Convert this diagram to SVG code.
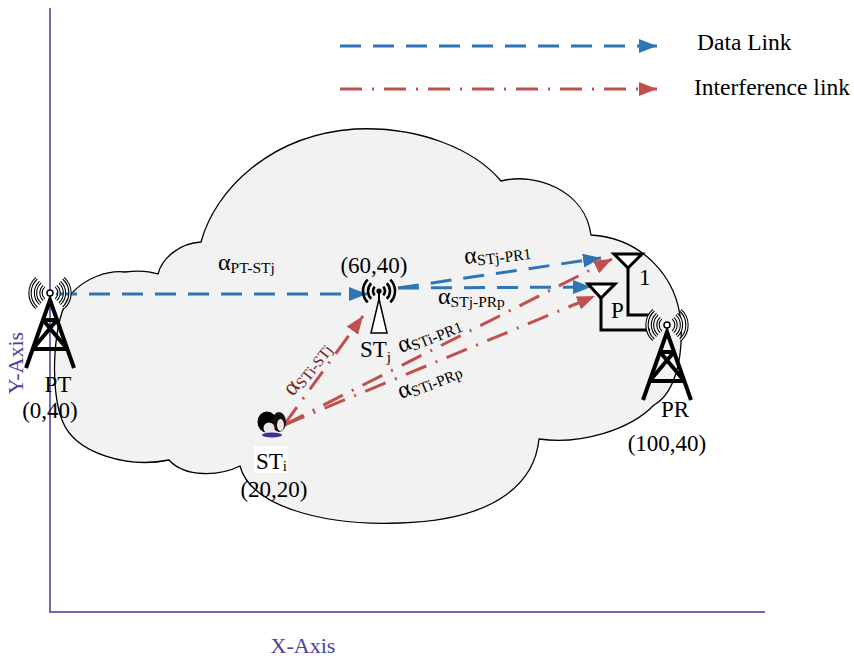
<svg xmlns="http://www.w3.org/2000/svg" xmlns:xlink="http://www.w3.org/1999/xlink" width="854" height="658" viewBox="0 0 854 658">
  <style>
    text { font-family: "Liberation Serif", "Times New Roman", serif; fill: #000; }
    .lbl { font-size: 23px; }
    .alpha { font-size: 24px; }
    .sub { font-size: 15.5px; }
    .axis-text { font-size: 22px; fill: #4b3fa0; }
    .legend-text { font-size: 23.5px; }
    .data { fill: none; stroke: #2e75b6; stroke-width: 3; stroke-dasharray: 21 12; }
    .intf { fill: none; stroke: #c0504d; stroke-width: 3; stroke-dasharray: 22 10 2 10; }
    .tower { fill: none; stroke: #000; stroke-width: 4; stroke-linejoin: miter; }
    .wave-o { fill: none; stroke: #000; stroke-width: 3.4; }
    .wave-i { fill: none; stroke: #fff; stroke-width: 1.2; }
    .wave-s { fill: none; stroke: #000; stroke-width: 2.6; }
    .ant { fill: #fff; stroke: #000; stroke-width: 3; stroke-linejoin: miter; }
    .feed { fill: none; stroke: #000; stroke-width: 3; }
  </style>
  <defs>
    <marker id="arrow-blue" markerUnits="userSpaceOnUse" markerWidth="20" markerHeight="14" refX="18" refY="7" orient="auto">
      <path d="M0,0 L18,7 L0,14 z" fill="#2e75b6"/>
    </marker>
    <marker id="arrow-red" markerUnits="userSpaceOnUse" markerWidth="20" markerHeight="14" refX="18" refY="7" orient="auto">
      <path d="M0,0 L18,7 L0,14 z" fill="#c0504d"/>
    </marker>
    <!-- lattice tower, apex at origin -->
    <g id="tower-body">
      <path class="tower" d="M-24,68 L0,0 L24,68"/>
      <path class="tower" d="M-7,20 L7,20 M-7,20 L17.3,49 M7,20 L-17.3,49 M-17.3,49 L17.3,49"/>
    </g>
    <!-- outlined radio waves centred at origin -->
    <g id="waves-outline">
      <path class="wave-o" d="M6.02,-6.69 A9,9 0 0 1 6.02,6.69 M9.7,-10.77 A14.5,14.5 0 0 1 9.7,10.77 M13.38,-14.86 A20,20 0 0 1 13.38,14.86 M-6.02,-6.69 A9,9 0 0 0 -6.02,6.69 M-9.7,-10.77 A14.5,14.5 0 0 0 -9.7,10.77 M-13.38,-14.86 A20,20 0 0 0 -13.38,14.86"/>
      <path class="wave-i" d="M6.02,-6.69 A9,9 0 0 1 6.02,6.69 M9.7,-10.77 A14.5,14.5 0 0 1 9.7,10.77 M13.38,-14.86 A20,20 0 0 1 13.38,14.86 M-6.02,-6.69 A9,9 0 0 0 -6.02,6.69 M-9.7,-10.77 A14.5,14.5 0 0 0 -9.7,10.77 M-13.38,-14.86 A20,20 0 0 0 -13.38,14.86"/>
      <circle cx="0" cy="0" r="3" fill="#fff" stroke="#000" stroke-width="1.5"/>
    </g>
  </defs>

  <rect x="0" y="0" width="854" height="658" fill="#fff"/>

  <!-- coverage cloud -->
  <path id="cloud" d="M71,294 C85,278 108,270 125,272 C140,270 152,272 158,274 C162,258 180,243 201,242 C215,190 270,135 355,129 C420,126 475,150 501,181 C535,172 585,190 591,235 C640,238 678,275 681,325 C683,365 672,395 654,405 C630,430 580,445 539,439 C535,480 500,520 400,523 C320,526 250,505 240,466 C220,476 185,478 169,460 C130,468 75,455 62,420 C50,390 52,320 71,294 Z" fill="#f2f2f2" stroke="#000" stroke-width="1.3"/>

  <!-- axes -->
  <g id="axes">
    <path d="M50,8 L50,612 L765,612" fill="none" stroke="#3b3a9e" stroke-width="1.5"/>
    <text class="axis-text" x="18" y="363" text-anchor="middle" dominant-baseline="middle" transform="rotate(-90 18 363)">Y-Axis</text>
    <text class="axis-text" x="303" y="653" text-anchor="middle">X-Axis</text>
  </g>

  <!-- legend -->
  <g id="legend">
    <line class="data" x1="340" y1="46" x2="657" y2="46" marker-end="url(#arrow-blue)"/>
    <text class="legend-text" x="697" y="50">Data Link</text>
    <line class="intf" x1="340" y1="89" x2="657" y2="89" marker-end="url(#arrow-red)"/>
    <text class="legend-text" x="694" y="95">Interference link</text>
  </g>

  <!-- links -->
  <g id="connectors">
    <line class="data" x1="56" y1="294" x2="367" y2="294" marker-end="url(#arrow-blue)"/>
    <line class="data" x1="398" y1="288" x2="601" y2="258" marker-end="url(#arrow-blue)"/>
    <line class="data" x1="398" y1="288" x2="591" y2="287" marker-end="url(#arrow-blue)"/>
    <line class="intf" x1="284" y1="425" x2="363" y2="316" marker-end="url(#arrow-red)"/>
    <line class="intf" x1="284" y1="425" x2="612" y2="259" marker-end="url(#arrow-red)"/>
    <line class="intf" x1="284" y1="425" x2="595" y2="296" marker-end="url(#arrow-red)"/>
  </g>

  <!-- link gains -->
  <g id="gains">
    <text class="alpha" x="218" y="270">α<tspan class="sub" dy="3">PT-STj</tspan></text>
    <text class="alpha" x="465" y="264" transform="rotate(-7 465 264)">α<tspan class="sub" dy="3">STj-PR1</tspan></text>
    <text class="alpha" x="438" y="304">α<tspan class="sub" dy="3">STj-PRp</tspan></text>
    <text class="alpha" x="401" y="353" transform="rotate(-22 401 353)">α<tspan class="sub" dy="3">STi-PR1</tspan></text>
    <text class="alpha" x="401" y="399" transform="rotate(-22 401 399)">α<tspan class="sub" dy="3">STi-PRp</tspan></text>
    <text class="alpha" x="293" y="397" transform="rotate(-52 293 397)" style="fill:#7a1e1e">α<tspan class="sub" dy="3" style="fill:#7a1e1e">STi-STj</tspan></text>
  </g>

  <!-- primary transmitter -->
  <g id="PT">
    <use xlink:href="#tower-body" href="#tower-body" transform="translate(50,300)"/>
    <use xlink:href="#waves-outline" href="#waves-outline" transform="translate(50,293)"/>
    <text class="lbl" x="58" y="392" text-anchor="middle">PT</text>
    <text class="lbl" x="50" y="418" text-anchor="middle">(0,40)</text>
  </g>

  <!-- secondary transmitter j -->
  <g id="STj">
    <path d="M379,293 L379,300" stroke="#000" stroke-width="2"/>
    <path d="M379,299 L371,333 L387,333 Z" fill="#fff" stroke="#000" stroke-width="1.5"/>
    <path class="wave-s" d="M4.24,-4.24 A6,6 0 0 1 4.24,4.24 M7.78,-7.78 A11,11 0 0 1 7.78,7.78 M11.31,-11.31 A16,16 0 0 1 11.31,11.31 M-4.24,-4.24 A6,6 0 0 0 -4.24,4.24 M-7.78,-7.78 A11,11 0 0 0 -7.78,7.78 M-11.31,-11.31 A16,16 0 0 0 -11.31,11.31" transform="translate(379,291)"/>
    <circle cx="379" cy="291" r="2.6" fill="#000"/>
    <text class="lbl" x="374" y="273" text-anchor="middle">(60,40)</text>
    <text class="lbl" x="360" y="357">ST<tspan font-size="15" dy="5">j</tspan></text>
  </g>

  <!-- secondary transmitter i: two users -->
  <g id="STi">
    <ellipse cx="267" cy="422" rx="9.5" ry="10.5" fill="#000"/>
    <ellipse cx="279" cy="422" rx="7" ry="10" fill="#111"/>
    <ellipse cx="269" cy="428" rx="5.5" ry="5.5" fill="#efe6e2"/>
    <ellipse cx="280.5" cy="425" rx="3.5" ry="6" fill="#efe6e2"/>
    <ellipse cx="272" cy="435" rx="10" ry="2.6" fill="#3b2e9e"/>
    <rect x="254" y="446" width="34" height="27" fill="#fff"/>
    <text class="lbl" x="256" y="469">ST<tspan font-size="15" dy="2">i</tspan></text>
    <text class="lbl" x="274" y="497" text-anchor="middle">(20,20)</text>
  </g>

  <!-- primary receiver with two antennas -->
  <g id="PR">
    <path class="feed" d="M628,267 L628,315 L650,315 M601,298 L601,330 L650,330"/>
    <path class="ant" d="M614,254 L642,254 L628,268 Z"/>
    <path class="ant" d="M588,284 L615,284 L601,298 Z"/>
    <text class="lbl" x="639" y="285" font-size="21">1</text>
    <text class="lbl" x="611" y="318" font-size="21">P</text>
    <use xlink:href="#tower-body" href="#tower-body" transform="translate(667,332)"/>
    <use xlink:href="#waves-outline" href="#waves-outline" transform="translate(667,325)"/>
    <text class="lbl" x="675" y="417" text-anchor="middle">PR</text>
    <text class="lbl" x="667" y="451" text-anchor="middle">(100,40)</text>
  </g>
</svg>
